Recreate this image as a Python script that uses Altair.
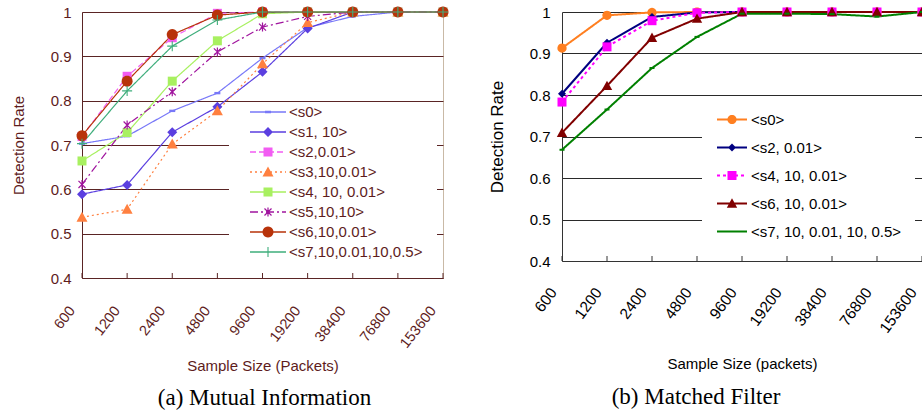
import math
import altair as alt
import pandas as pd

# ---------------- data ----------------
sizes = ["600", "1200", "2400", "4800", "9600", "19200", "38400", "76800", "153600"]
y_ticks = [0.4, 0.5, 0.6, 0.7, 0.8, 0.9, 1.0]

# (a) Mutual Information
mi_series = ["<s0>", "<s1, 10>", "<s2,0.01>", "<s3,10,0.01>", "<s4, 10, 0.01>",
             "<s5,10,10>", "<s6,10,0.01>", "<s7,10,0.01,10,0.5>"]
mi_s0 = [0.703, 0.720, 0.777, 0.817, 0.896, 0.965, 0.990, 1.0, 1.0]
mi_s1 = [0.589, 0.610, 0.729, 0.786, 0.865, 0.963, 1.0, 1.0, 1.0]
mi_s2 = [0.719, 0.855, 0.942, 0.997, 1.0, 1.0, 1.0, 1.0, 1.0]
mi_s3 = [0.537, 0.555, 0.702, 0.777, 0.883, 0.976, 1.0, 1.0, 1.0]
mi_s4 = [0.664, 0.728, 0.844, 0.935, 0.996, 1.0, 1.0, 1.0, 1.0]
mi_s5 = [0.611, 0.745, 0.820, 0.910, 0.966, 0.990, 1.0, 1.0, 1.0]
mi_s6 = [0.721, 0.844, 0.949, 0.993, 1.0, 1.0, 1.0, 1.0, 1.0]
mi_s7 = [0.703, 0.822, 0.923, 0.982, 1.0, 1.0, 1.0, 1.0, 1.0]
mi_values = [mi_s0, mi_s1, mi_s2, mi_s3, mi_s4, mi_s5, mi_s6, mi_s7]

# (b) Matched Filter
mf_series = ["<s0>", "<s2, 0.01>", "<s4, 10, 0.01>", "<s6, 10, 0.01>", "<s7, 10, 0.01, 10, 0.5>"]
mf_s0 = [0.913, 0.992, 0.999, 1.0, 1.0, 1.0, 1.0, 1.0, 1.0]
mf_s2 = [0.803, 0.926, 0.988, 0.999, 1.0, 1.0, 1.0, 1.0, 1.0]
mf_s4 = [0.783, 0.916, 0.979, 0.998, 1.0, 1.0, 1.0, 1.0, 1.0]
mf_s6 = [0.709, 0.822, 0.938, 0.984, 1.0, 1.0, 1.0, 1.0, 1.0]
mf_s7 = [0.668, 0.765, 0.865, 0.940, 0.996, 0.996, 0.995, 0.989, 1.0]
mf_values = [mf_s0, mf_s2, mf_s4, mf_s6, mf_s7]

# ---------------- styles ----------------
mi_colors = ["#7878f8", "#5b3fe0", "#f25cf2", "#ff8040", "#a8f060", "#a0149e", "#b8330a", "#3fae7c"]
mi_dash = [None, None, [6, 3], [2, 3], None, [8, 3, 2, 3], None, None]
mi_markers = [("bar", (6, 2.4)), ("diamond", 5), ("square", 9), ("triangle", 5.5),
              ("square", 9), ("asterisk", (4.5, 1.2)), ("circle", 5.5), ("plus", (5, 1.1))]

mf_colors = ["#ff7f20", "#000080", "#ff00ff", "#800000", "#008000"]
mf_dash = [None, None, [3, 3], None, None]
mf_markers = [("circle", 4.6), ("diamond", 4), ("square", 9), ("triangle", 5.2), ("bar", (5, 2))]

BROWN_TXT = "#5e1c1c"
BROWN_LINE = "#5a2424"


def fnum(v):
    s = f"{v:.4f}"
    return "0" if s in ("-0.0000", "0.0000") else s


def rect_pts(x0, x1, y0, y1):
    return [(x0, y0), (x1, y0), (x1, y1), (x0, y1)]


def marker_polys(kind, p):
    if kind == "bar":
        w, h = p
        return [rect_pts(-w / 2, w / 2, -h / 2, h / 2)]
    if kind == "diamond":
        return [[(0, -p), (p, 0), (0, p), (-p, 0)]]
    if kind == "square":
        a = p / 2
        return [rect_pts(-a, a, -a, a)]
    if kind == "triangle":
        return [[(0, -p), (p, 0.8 * p), (-p, 0.8 * p)]]
    if kind == "circle":
        return [[(p * math.cos(2 * math.pi * k / 24), p * math.sin(2 * math.pi * k / 24)) for k in range(24)]]
    if kind == "plus":
        a, t = p
        return [rect_pts(-a, a, -t / 2, t / 2), rect_pts(-t / 2, t / 2, -a, a)]
    if kind == "asterisk":
        a, t = p
        d = a * 0.78
        n = t / 2 / math.sqrt(2)
        return [rect_pts(-t / 2, t / 2, -a, a),
                [(-d + n, -d - n), (d + n, d - n), (d - n, d + n), (-d - n, -d + n)],
                [(-d - n, d - n), (d - n, -d - n), (d + n, -d + n), (-d + n, d + n)]]
    return []


def poly_path(pts, u):
    return "M" + "L".join(f"{fnum(x / u)},{fnum(y / u)}" for x, y in pts) + "Z"


def plot_shape(kind, p):
    polys = marker_polys(kind, p)
    h = max(max(abs(x), abs(y)) for pl in polys for x, y in pl)
    return "".join(poly_path(pl, h) for pl in polys), (2 * h) ** 2


def dash_rects(L, t, dash):
    if not dash:
        return [rect_pts(-L / 2, L / 2, -t / 2, t / 2)]
    out, x, i, on = [], -L / 2, 0, True
    while x < L / 2 - 1e-9:
        x2 = min(x + dash[i % len(dash)], L / 2)
        if on:
            out.append(rect_pts(x, x2, -t / 2, t / 2))
        x, on, i = x2, not on, i + 1
    return out


SYM_UNIT = 7.5          # legend symbol size 225 -> half side 7.5 px


def legend_shape(kind, p, dash, L, t, right_ext):
    u = SYM_UNIT
    path = f"M{fnum(right_ext / u)},0"
    for pl in dash_rects(L, t, dash) + marker_polys(kind, p):
        path += poly_path(pl, u)
    return path


def panel(series, values, colors, dashes, markers, W, H, lw, txt, line_col, grid_col,
          frame, leg, xax, yax, caption):
    rows = []
    for s, vals in zip(series, values):
        for i, (sz, v) in enumerate(zip(sizes, vals)):
            rows.append({"series": s, "size": sz, "idx": i, "value": v})
    df = pd.DataFrame(rows)

    xs = alt.Scale(domain=sizes, type="point", padding=0)
    ys = alt.Scale(domain=[0.4, 1.0], nice=False, zero=False)
    cs = alt.Scale(domain=series, range=colors)

    x_axis = alt.Axis(title=xax["title"],
                      labelAngle=xax["angle"], labelAlign="right", labelBaseline="middle",
                      labelPadding=xax["pad"], labelOffset=xax["off"], labelFontSize=xax["fs"],
                      labelColor=txt, ticks=False, grid=False, domainColor=line_col,
                      titleColor=txt, titleFontSize=15, titleFontWeight="normal",
                      titleX=W / 2, titleY=xax["ty"], titleAlign="center", titleBaseline="middle")
    y_axis = alt.Axis(title="Detection Rate", values=y_ticks, format=".1~f", grid=True,
                      gridColor=grid_col, ticks=False, domainColor=line_col,
                      labelColor=txt, labelFontSize=15, labelPadding=yax["pad"],
                      titleColor=txt, titleFontSize=yax["tfs"], titleFontWeight="normal",
                      titleAngle=270, titleX=yax["tx"], titleY=H / 2,
                      titleAlign="center", titleBaseline="middle")
    X = alt.X("size:O", scale=xs, axis=x_axis)
    Y = alt.Y("value:Q", scale=ys, axis=y_axis)

    leg_paths = [legend_shape(kind, p, d, leg["L"], leg["t"], leg["rext"])
                 for (kind, p), d in zip(markers, dashes)]
    legend = alt.Legend(title=None, orient="none", legendX=leg["x"], legendY=leg["y"],
                        padding=0, fillColor="white", labelFont="Liberation Sans",
                        labelFontSize=15, labelColor=txt, labelOffset=leg["loff"],
                        symbolOffset=leg["soff"], symbolSize=(2 * SYM_UNIT) ** 2,
                        symbolStrokeWidth=0, symbolOpacity=1, rowPadding=leg["rpad"],
                        labelLimit=400)
    C = alt.Color("series:N", scale=cs, legend=legend)

    # legend carrier (first layer: its symbol encoding is used by the legend)
    dummy = alt.Chart(df).mark_point(filled=True).encode(
        x=X, y=Y, color=C,
        shape=alt.Shape("series:N", scale=alt.Scale(domain=series, range=leg_paths), legend=legend),
        opacity=alt.value(0))

    tick_df = pd.DataFrame({"size": sizes})
    ticks = alt.Chart(tick_df).mark_rule(color=line_col, strokeWidth=1).encode(
        x=X, y=alt.value(H), y2=alt.value(H - 5))

    layers = [dummy, ticks]
    for s, d in zip(series, dashes):
        layers.append(alt.Chart(df).transform_filter(alt.datum.series == s).mark_line(
            strokeWidth=lw, strokeDash=d if d else [1, 0]).encode(
            x=X, y=Y, order=alt.Order("idx:Q"), color=C))
    for s, (kind, p) in zip(series, markers):
        path, size = plot_shape(kind, p)
        layers.append(alt.Chart(df).transform_filter(alt.datum.series == s).mark_point(
            shape=path, size=size, filled=True, opacity=1, strokeWidth=0).encode(
            x=X, y=Y, color=C))

    return alt.layer(*layers).properties(
        width=W, height=H,
        view=alt.ViewBackground(stroke=frame, strokeWidth=1),
        title=alt.TitleParams(caption["text"], orient="bottom", anchor="middle", frame="group",
                              font="Liberation Serif", fontSize=23, fontWeight="normal",
                              color="black", offset=caption["off"], dx=caption["dx"]))


left = panel(mi_series, mi_values, mi_colors, mi_dash, mi_markers, 361, 266, 1.2,
             BROWN_TXT, BROWN_LINE, BROWN_LINE, "#c9b9a6",
             leg={"x": 147, "y": 92.5, "L": 36, "t": 1.4, "rext": 169,
                  "soff": 31.5, "loff": 13.5, "rpad": 4},
             xax={"title": "Sample Size (Packets)", "angle": -52, "pad": 30, "off": -10, "fs": 14.5, "ty": 87},
             yax={"pad": 11, "tfs": 15, "tx": -64},
             caption={"text": "(a) Mutual Information", "off": 14, "dx": 2})

right = panel(mf_series, mf_values, mf_colors, mf_dash, mf_markers, 360, 249, 2,
              "black", "#333333", "#2a2a2a", "transparent",
              leg={"x": 140, "y": 100, "L": 30, "t": 2, "rext": 183,
                   "soff": 22.5, "loff": 11.5, "rpad": 12},
              xax={"title": "Sample Size (packets)", "angle": -54, "pad": 28, "off": -9, "fs": 15.5, "ty": 102},
              yax={"pad": 12, "tfs": 17, "tx": -65},
              caption={"text": "(b) Matched Filter", "off": 15, "dx": -46})

chart = alt.hconcat(left, right, spacing=119, bounds="flush").resolve_scale(
    x="independent", y="independent", color="independent", shape="independent"
).resolve_legend(color="independent", shape="independent").properties(
    autosize=alt.AutoSizeParams(type="none"),
    padding={"left": 82, "top": 12, "right": 840, "bottom": 404}
).configure(font="Liberation Sans")

chart.save("out.html", embed_options={"renderer": "svg", "actions": False})
